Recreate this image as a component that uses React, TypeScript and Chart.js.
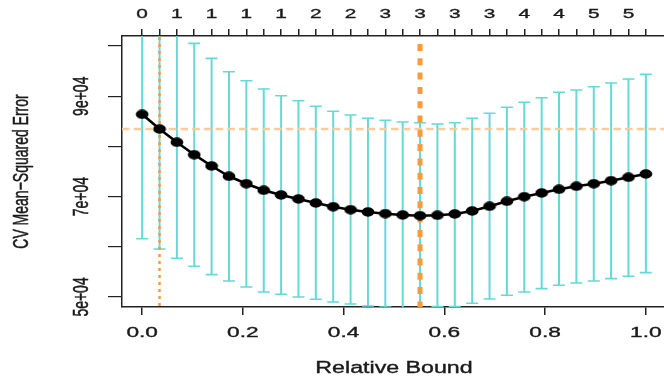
import React, { useEffect, useRef } from "react";
import { Chart, registerables } from "chart.js";

Chart.register(...registerables);

// ---- data ----
const relBound = [
  0, 0.0345, 0.069, 0.1034, 0.1379, 0.1724, 0.2069, 0.2414, 0.2759, 0.3103,
  0.3448, 0.3793, 0.4138, 0.4483, 0.4828, 0.5172, 0.5517, 0.5862, 0.6207, 0.6552,
  0.6897, 0.7241, 0.7586, 0.7931, 0.8276, 0.8621, 0.8966, 0.931, 0.9655, 1.0,
];
const cvMse = [
  86394, 83466, 80817, 78347, 76096, 74044, 72570, 71255, 70319, 69522,
  68725, 67988, 67390, 66932, 66594, 66335, 66195, 66275, 66534, 67131,
  68068, 69064, 69980, 70717, 71454, 72052, 72570, 73167, 73845, 74502,
];
const cvUpper = [
  111174, 107370, 103925, 100538, 97550, 94880, 93090, 91434, 90100, 89104,
  87988, 86992, 86255, 85598, 85199, 84860, 84721, 84462, 84721, 85598,
  86594, 87789, 88785, 89701, 90777, 91235, 91892, 92629, 93426, 94363,
];
const cvLower = [
  61614, 59562, 57709, 56110, 54442, 53187, 51992, 50996, 50538, 50000,
  49542, 49004, 48606, 48207, 47989, 47810, 47669, 48088, 48100, 48745,
  49602, 50339, 50996, 51653, 52331, 52789, 53187, 53645, 54124, 54841,
];
const dofLabels = [
  "0", "1", "1", "1", "1", "1", "1", "1", "1", "2",
  "2", "2", "2", "2", "3", "3", "3", "3", "3", "3",
  "3", "4", "4", "4", "4", "4", "5", "5", "5", "5",
];
const xTickValues = [0, 0.2, 0.4, 0.6, 0.8, 1.0];
const xTickLabels = ["0.0", "0.2", "0.4", "0.6", "0.8", "1.0"];
const yTickValues = [50000, 60000, 70000, 80000, 90000, 100000];
const yLabelValues = [50000, 70000, 90000];
const yLabelTexts = ["5e+04", "7e+04", "9e+04"];
const minIndex = 16;
const oneSeIndex = 1;
const oneSeLevel = 83466;

const FONT = '"Liberation Sans", Arial, Helvetica, sans-serif';

function drawText(ctx: CanvasRenderingContext2D, t: string, size: number) {
  ctx.font = `${size}px ${FONT}`;
  ctx.textAlign = "center";
  ctx.textBaseline = "alphabetic";
  ctx.fillStyle = "#1a1a1a";
  ctx.strokeStyle = "#1a1a1a";
  ctx.lineWidth = 0.35;
  ctx.fillText(t, 0, 0);
  ctx.strokeText(t, 0, 0);
}

function hText(ctx: CanvasRenderingContext2D, t: string, x: number, y: number, size: number, sx: number) {
  ctx.save();
  ctx.translate(x, y);
  ctx.scale(sx, 1);
  drawText(ctx, t, size);
  ctx.restore();
}

function vText(ctx: CanvasRenderingContext2D, t: string, x: number, y: number, size: number, sx: number) {
  ctx.save();
  ctx.translate(x, y);
  ctx.scale(sx, 1);
  ctx.rotate(-Math.PI / 2);
  drawText(ctx, t, size);
  ctx.restore();
}

const refPlugin = {
  id: "cvRefs",
  beforeDatasetsDraw(chart: any) {
    const { ctx, chartArea, scales } = chart;
    const xs = scales.x;
    const ys = scales.y;
    ctx.save();
    ctx.beginPath();
    ctx.rect(chartArea.left, chartArea.top, chartArea.right - chartArea.left, chartArea.bottom - chartArea.top);
    ctx.clip();
    // error bars
    ctx.strokeStyle = "#66d8d8";
    for (let i = 0; i < relBound.length; i++) {
      const px = xs.getPixelForValue(relBound[i]);
      const pu = ys.getPixelForValue(cvUpper[i]);
      const pl = ys.getPixelForValue(cvLower[i]);
      ctx.lineWidth = 2;
      ctx.beginPath();
      ctx.moveTo(px, pu);
      ctx.lineTo(px, pl);
      ctx.stroke();
      ctx.lineWidth = 1.6;
      ctx.beginPath();
      ctx.moveTo(px - 6, pu);
      ctx.lineTo(px + 6, pu);
      ctx.moveTo(px - 6, pl);
      ctx.lineTo(px + 6, pl);
      ctx.stroke();
    }
    // horizontal one-SE level
    const hy = ys.getPixelForValue(oneSeLevel);
    ctx.strokeStyle = "#fbcb9c";
    ctx.lineWidth = 2.5;
    ctx.setLineDash([7.5, 4.2]);
    ctx.beginPath();
    ctx.moveTo(chartArea.left, hy);
    ctx.lineTo(chartArea.right, hy);
    ctx.stroke();
    // thin dotted at one-SE choice
    const x1 = xs.getPixelForValue(relBound[oneSeIndex]);
    ctx.strokeStyle = "#fb9a3a";
    ctx.lineWidth = 2.5;
    ctx.setLineDash([3, 4]);
    ctx.beginPath();
    ctx.moveTo(x1, chartArea.top + 1);
    ctx.lineTo(x1, chartArea.bottom);
    ctx.stroke();
    // thick dotted at minimum
    const x2 = xs.getPixelForValue(relBound[minIndex]);
    ctx.lineWidth = 5;
    ctx.setLineDash([7, 7.3]);
    ctx.beginPath();
    ctx.moveTo(x2, chartArea.top + 8);
    ctx.lineTo(x2, chartArea.bottom);
    ctx.stroke();
    ctx.restore();
  },
  afterDraw(chart: any) {
    const { ctx, chartArea, scales } = chart;
    const xs = scales.x;
    const ys = scales.y;
    // bottom tick labels
    xTickValues.forEach((v, i) => hText(ctx, xTickLabels[i], xs.getPixelForValue(v), 337, 14, 1.62));
    // top labels (every other shown)
    relBound.forEach((v, i) => {
      if (i % 2 === 0) hText(ctx, dofLabels[i], xs.getPixelForValue(v), 18, 13, 1.6);
    });
    // y labels
    yLabelValues.forEach((v, i) => vText(ctx, yLabelTexts[i], 88, ys.getPixelForValue(v), 14, 1.6));
    // titles
    hText(ctx, "Relative Bound", (chartArea.left + chartArea.right) / 2, 373, 16, 1.45);
    vText(ctx, "CV Mean\u2212Squared Error", 28, (chartArea.top + chartArea.bottom) / 2, 14, 1.57);
  },
};

export default function App() {
  const ref = useRef<HTMLCanvasElement | null>(null);
  useEffect(() => {
    if (!ref.current) return;
    const dot = document.createElement("canvas");
    dot.width = 14;
    dot.height = 10;
    const dctx = dot.getContext("2d")!;
    dctx.fillStyle = "#000";
    dctx.beginPath();
    dctx.ellipse(7, 5, 6.4, 4.7, 0, 0, Math.PI * 2);
    dctx.fill();

    const gridCommon = { drawOnChartArea: false, drawTicks: true, color: "#222", lineWidth: 1.5 };
    const borderCommon = { display: true, color: "#222", width: 1.5 };

    const chart = new Chart(ref.current, {
      type: "line",
      data: {
        datasets: [
          {
            data: relBound.map((x, i) => ({ x, y: cvMse[i] })),
            borderColor: "#000",
            backgroundColor: "#000",
            borderWidth: 2.6,
            pointStyle: dot as any,
            pointRadius: 6,
            tension: 0,
            xAxisID: "x",
            yAxisID: "y",
          },
        ],
      },
      options: {
        animation: false,
        responsive: false,
        devicePixelRatio: 1,
        events: [],
        layout: { padding: { left: 0, right: 24, top: 0, bottom: 0 }, autoPadding: false },
        plugins: { legend: { display: false }, tooltip: { enabled: false } },
        scales: {
          x: {
            type: "linear",
            position: "bottom",
            min: -0.04,
            max: 1.04,
            afterBuildTicks: (s: any) => {
              s.ticks = xTickValues.map((v) => ({ value: v }));
            },
            ticks: { display: false },
            grid: { ...gridCommon, tickLength: 8 },
            border: borderCommon,
            afterFit: (s: any) => {
              s.height = 73;
            },
          },
          x2: {
            type: "linear",
            position: "top",
            min: -0.04,
            max: 1.04,
            afterBuildTicks: (s: any) => {
              s.ticks = relBound.map((v) => ({ value: v }));
            },
            ticks: { display: false },
            grid: { ...gridCommon, tickLength: 7 },
            border: borderCommon,
            afterFit: (s: any) => {
              s.height = 36;
            },
          },
          y: {
            type: "linear",
            position: "left",
            min: 48000,
            max: 102000,
            afterBuildTicks: (s: any) => {
              s.ticks = yTickValues.map((v) => ({ value: v }));
            },
            ticks: { display: false },
            grid: { ...gridCommon, lineWidth: 1.2, tickLength: 14 },
            border: borderCommon,
            afterFit: (s: any) => {
              s.width = 122;
            },
          },
        },
      } as any,
      plugins: [refPlugin],
    });
    return () => chart.destroy();
  }, []);

  return (
    <div
      style={{
        position: "fixed",
        left: 0,
        top: 0,
        width: 664,
        height: 380,
        overflow: "hidden",
        background: "#fff",
      }}
    >
      <canvas ref={ref} width={690} height={380} style={{ display: "block", width: 690, height: 380 }} />
    </div>
  );
}
